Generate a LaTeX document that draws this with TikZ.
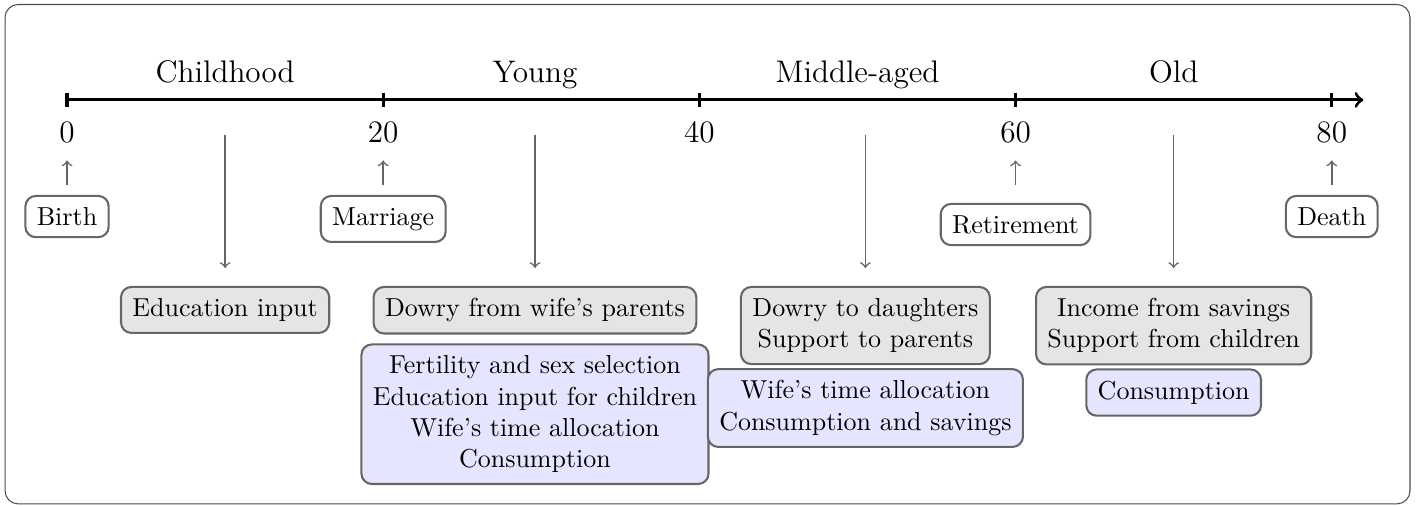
\documentclass[tikz,border=0pt]{standalone}
\usepackage{tikz}
\usetikzlibrary{positioning}
\tikzset{
	axis/.style={black, very thick, ->},
	agetick/.style={black, very thick},
	period/.style={font=\large, anchor=base},
	agenum/.style={font=\large, anchor=base, inner sep=2pt},
	pointer/.style={black!60, semithick, ->},
	event/.style={draw=black!60, thick, rounded corners=4pt, fill=white, inner sep=4.4pt, anchor=north},
	given/.style={event, fill=black!10, align=center},
	choice/.style={event, fill=blue!10, align=center},
}

\begin{document}
\begin{tikzpicture}[x=0.2137cm, y=1cm]
	
	% ---- Frame ----
	\useasboundingbox (-4.24,-5.486) rectangle (85.9,1.351);
	\draw[black!70, rounded corners=5pt] (-3.92,-5.46) rectangle (84.95,1.29);
	
	% ---- Age axis ----
	\draw[axis] (0,0) -- (82,0);
	\foreach \a in {0,20,40,60,80} {
		\draw[agetick] (\a,-0.095) -- (\a,0.095);
		\node[agenum] (n\a) at (\a,-0.581) {\a};
	}
	
	% ---- Periods ----
	\node[period] (childhood) at (10,0.23) {Childhood};
	\node[period] (young) at (29.6,0.23) {Young};
	\node[period] (middle) at (50,0.23) {Middle-aged};
	\node[period] (old) at (70,0.23) {Old};
	
	% ---- Events ----
	\node[event] (birth) at (0,-1.284) {Birth};
	\node[event] (marriage) at (20,-1.284) {Marriage};
	\node[event] (retirement) at (60,-1.392) {Retirement};
	\node[event] (death) at (80,-1.284) {Death};
	
	\draw[pointer, shorten <=3.8pt, shorten >=4.3pt] (birth) -- (n0);
	\draw[pointer, shorten <=3.8pt, shorten >=4.3pt] (marriage) -- (n20);
	\draw[pointer, shorten <=6.9pt, shorten >=4.3pt] (retirement) -- (n60);
	\draw[pointer, shorten <=3.8pt, shorten >=4.3pt] (death) -- (n80);
	
	% ---- Transfers in each period ----
	\node[given] (edu) at (10,-2.514) {Education input};
	\node[given] (dowryin) at (29.6,-2.514) {Dowry from wife's parents};
	\node[given] (dowryout) at (50.5,-2.514) {Dowry to daughters\\Support to parents};
	\node[given] (oldincome) at (70,-2.514) {Income from savings\\Support from children};
	
	% ---- Choices in each period ----
	\node[choice, below=0.12cm of dowryin] (youngchoice) {Fertility and sex selection\\Education input for children\\Wife's time allocation\\Consumption};
	\node[choice, below=0.04cm of dowryout] (middlechoice) {Wife's time allocation\\Consumption and savings};
	\node[choice, below=0.04cm of oldincome] (oldchoice) {Consumption};
	
	% ---- Pointers from periods ----
	\coordinate (childtop) at (10,-0.473);
	\coordinate (youngtop) at (29.6,-0.473);
	\coordinate (middletop) at (50.5,-0.473);
	\coordinate (oldtop) at (70,-0.473);
	\draw[pointer, shorten >=6.9pt] (childtop) -- (edu);
	\draw[pointer, shorten >=6.9pt] (youngtop) -- (dowryin);
	\draw[pointer, shorten >=6.9pt] (middletop) -- (dowryout);
	\draw[pointer, shorten >=6.9pt] (oldtop) -- (oldincome);
	
\end{tikzpicture}
\end{document}
